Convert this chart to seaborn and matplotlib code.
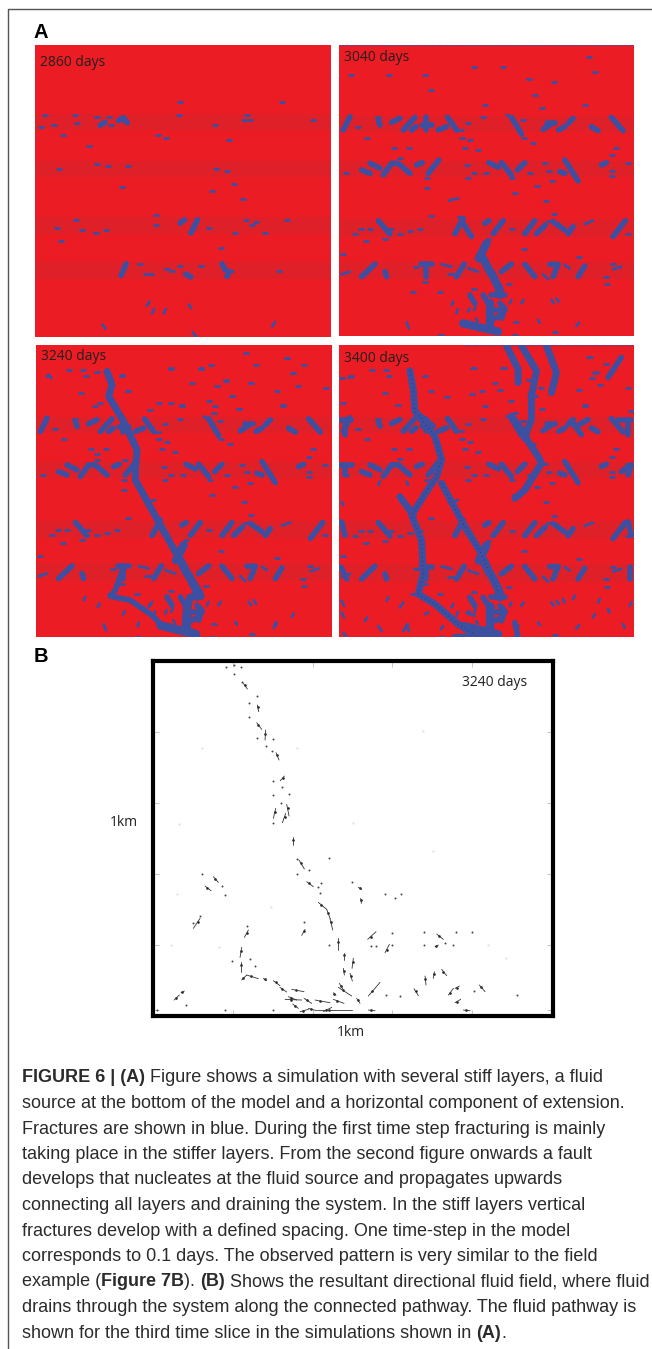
import matplotlib
matplotlib.use("Agg")
import matplotlib.pyplot as plt
import numpy as np
import pandas as pd
import seaborn as sns

sns.set_theme(style="white")
plt.rcParams['font.family'] = ['Liberation Sans', 'DejaVu Sans']

W, H = 652, 1349
RED, BAND, BLUE = "#EC1C24", "#DF2029", "#3D4FA1"

days = ["2860 days", "3040 days", "3240 days", "3400 days"]

# ---- panel 2860 days (read in its own picture units)
a1_dash_x = [75,164,231,267,63,102,170,272,128,208,415,437,481,476,784,681,583,627,877,230,263,325,116,588,619,307,641,574,668,409,409,169,111,187,227,259,124,677,801,708,695,645,735,566,601,361,481,543,441,455,775,631,672,690,378,392]
a1_dash_y = [314,314,321,321,352,345,338,345,376,407,376,383,276,314,276,314,345,391,329,461,469,469,477,477,484,531,522,545,569,615,646,631,654,662,669,662,693,631,631,638,646,669,669,654,715,762,769,769,777,785,785,785,329,329,793,793]
a1_thick = [[(295,332),(312,324)],[(240,346),(255,337)],[(305,325),(322,338)],[(480,640),(493,630)],[(512,670),(532,630)],[(303,797),(318,762)],[(605,762),(615,780)],[(620,800),(628,785)],[(497,793),(512,802)]]
a1_thin = [[(380,888),(388,876)],[(396,911),(402,898)],[(431,911),(437,898)],[(506,884),(513,895)],[(247,945),(256,957)],[(756,950),(764,937)],[(518,968),(528,981)]]

# ---- fractures that persist through the later panels (shared picture units)
a2_dash_x = [764,417,506,47,163,270,782,582,657,288,600,449,622,752,443,565,399,68,130,96,381,404,568,595,176,221,390,430,844,831,194,395,630,880,34,417,453,831,831,586,644,653,275,399,533,608,275,541,635,657,288,643,78,105,60,194,225,256,92,150,461,532,880,568,25,734,243,835,813,817,234,315,270,417,522,545,661,541,318]
a2_dash_y = [140,172,172,194,194,194,185,208,216,239,255,285,293,285,322,329,338,352,322,383,383,391,383,398,413,413,413,421,413,436,444,466,459,459,490,490,490,482,497,490,482,513,505,505,505,527,535,549,572,611,619,634,656,656,671,671,663,656,693,686,686,656,671,717,733,740,770,763,800,823,845,845,815,838,823,937,967,974,974]
a2_thick = [
    [(25,360),(45,320)],[(130,330),(135,345)],[(170,337),(195,325)],[(205,360),(240,322)],[(230,360),(243,350)],[(260,345),(290,345)],[(272,322),(272,360)],[(310,360),(335,350)],[(338,322),(365,360)],[(530,322),(560,372)],[(625,358),(645,345)],[(638,338),(662,338)],[(672,360),(690,350)],[(700,340),(715,325)],[(770,350),(790,362)],[(830,322),(865,362)],
    [(105,460),(135,475)],[(145,495),(170,460),(190,460),(225,490)],[(80,480),(105,490)],[(245,465),(262,458)],[(280,490),(312,450)],[(462,458),(490,472)],[(500,458),(530,495)],[(548,480),(570,458)],[(690,450),(730,513)],[(675,485),(690,490)],[(800,465),(815,458)],
    [(130,632),(165,672)],[(360,671),(385,625)],[(385,640),(410,680)],[(450,640),(462,632)],[(475,671),(505,632)],[(570,671),(600,632)],[(605,671),(632,645)],[(655,635),(690,660)],[(700,671),(715,650)],[(835,680),(872,632)],
    [(80,800),(120,762)],[(150,785),(155,800)],[(272,765),(272,800)],[(258,763),(290,763)],[(365,800),(388,762)],[(500,785),(530,762)],[(570,763),(600,800)],[(645,763),(670,763),(655,800)],[(730,800),(750,768)],
    [(405,855),(420,880)],[(445,855),(460,880)],[(480,900),(510,900)],[(500,915),(480,925)],[(470,855),(510,855)],[(495,880),(510,895),(500,925)],
]
a2_thin = [
    [(515,315),(530,322)],[(365,360),(385,360)],[(342,572),(370,565)],[(160,656),(175,656)],[(370,620),(385,620)],[(750,642),(775,632)],
    [(20,793),(45,785)],[(320,763),(350,770)],[(340,793),(365,793)],[(400,775),(430,785)],[(625,793),(640,808)],[(690,765),(705,775)],[(835,778),(860,770)],
    [(350,885),(355,875)],[(365,910),(369,898)],[(400,905),(404,895)],[(418,900),(422,890)],[(525,880),(530,870)],[(560,880),(566,870)],[(650,870),(657,880)],[(665,865),(672,875)],[(610,930),(615,938)],[(725,948),(733,938)],[(215,937),(222,955)],[(428,933),(424,925)],
]
a2_fault = [[(455,700),(432,745)],[(445,745),(465,785)],[(470,790),(495,840)],[(465,880),(465,950)],[(385,940),(490,965)],[(490,850),(495,855)]]

# ---- panel 3240 days additions
a3_dash_x = [110,153,195,271,417,506,538,641,765,673,815,783,480,555,583,657,797,881,734,148,287,600,530,381,417,449,752,622,550,203,190,353,545,195,280]
a3_dash_y = [177,177,183,192,170,170,161,124,139,161,161,184,215,223,207,215,223,230,238,245,238,253,268,275,275,282,282,292,283,275,283,297,305,427,445]
a3_fault = [[(225,180),(240,220),(230,255),(275,330),(315,415),(310,475),(310,505),(385,640),(455,765),(505,845)],[(475,855),(460,915),(460,955)],[(395,945),(455,960),(495,970)]]
a3_thick = [[(275,765),(250,835),(235,853),(295,865),(360,910),(395,945)]]
a3_thin = [[(155,865),(160,855)],[(197,885),(203,875)],[(273,908),(278,898)],[(317,943),(320,932)],[(355,880),(360,870)],[(780,915),(785,905)],[(727,940),(733,930)],[(50,190),(58,200)]]

# ---- panel 3400 days additions
a4_dash_x = [110,153,22,45,25,150,190,335,412,440,495,530,415,508,480,765,783,815,773,797,881,734,752,888,540,585,620]
a4_dash_y = [177,177,200,198,275,245,283,257,250,240,238,270,173,172,215,140,184,161,201,223,230,238,283,300,305,250,230]
a4_fault = [[(225,180),(235,235),(240,300),(300,375),(320,445),(305,495),(265,555),(230,610),(260,685),(265,785),(250,845)],[(250,845),(300,875),(370,935),(420,965)],[(320,515),(385,635),(440,725),(490,835)],[(470,885),(465,955)],[(195,555),(235,610)],[(560,105),(605,180),(590,255),(590,325),(570,375),(610,435),(620,455),(570,535),(540,560)],[(635,105),(665,185),(650,245)],[(515,105),(550,175),(550,215)],[(530,315),(575,375)]]
a4_thick = [[(18,325),(48,325)],[(30,325),(30,370)],[(18,462),(50,462)],[(30,462),(30,490)],[(20,630),(30,670)],[(18,765),(35,800)],[(850,325),(890,325)],[(880,325),(880,370)],[(860,480),(890,460),(880,490)],[(880,630),(890,670)],[(885,765),(885,800)],[(725,345),(760,325)],[(710,330),(740,370)],[(820,200),(860,140)],[(540,930),(550,975)],[(240,300),(295,345)],[(360,972),(480,968)]]
a4_thin = [[(20,865),(27,880)],[(20,900),(27,915)],[(90,925),(97,915)],[(130,940),(140,955)],[(205,955),(220,935)],[(195,885),(205,870)],[(155,865),(160,855)],[(270,905),(280,900)],[(318,950),(325,940)],[(795,860),(790,870)],[(820,890),(825,900)],[(885,880),(890,870)],[(775,915),(780,905)],[(865,935),(870,945)],[(720,850),(715,860)],[(685,860),(690,870)],[(25,960),(35,975)],[(130,520),(135,510)],[(20,570),(25,580)],[(215,510),(220,520)],[(395,900),(420,910)]]

layer_a1 = [(313,360),(452,500),(622,672),(758,808)]
layer_rest = [(318,365),(452,500),(628,680),(755,808)]

# ---- panel B: flow vectors and isolated dots
b_vec = [(430,100,442,117),(472,165,476,185),(470,218,485,238),(497,240,495,270),(528,308,537,330),(553,378,541,392),(527,475,520,505),(560,463,567,498),(557,490,547,518),(578,562,578,585),(597,630,613,657),(620,695,640,710),(655,757,680,778),(680,778,690,805),(690,805,698,840),(340,680,355,697),(315,708,333,722),(300,805,280,835),(615,838,605,856),(445,840,433,862),(425,892,420,922),(422,935,422,965),(425,990,440,975),(440,975,475,986),(490,985,500,992),(520,992,540,1007),(540,1012,560,1026),(575,1018,612,1025),(555,1048,605,1050),(565,1040,590,1050),(612,1045,635,1060),(645,1050,690,1058),(700,1048,732,1060),(578,1062,595,1075),(600,1085,625,1078),(625,1075,650,1082),(650,1080,755,1080),(670,1085,695,1072),(715,1012,755,1038),(718,1000,730,1020),(770,1045,780,1060),(700,1028,708,1036),(713,865,713,900),(732,908,732,930),(760,925,756,955),(730,955,733,975),(750,970,757,993),(803,868,828,845),(855,908,868,883),(1010,852,1030,868),(1005,890,1015,885),(975,978,978,1005),(1003,965,1000,985),(1025,958,1040,977),(942,1016,955,1037),(805,1038,840,997),(1045,1035,1060,1015),(1065,1015,1078,1008),(1138,1005,1155,1025),(1065,1058,1082,1048),(222,1050,238,1035),(243,1028,253,1023),(1090,1080,1110,1082),(805,1080,825,1082),(782,745,784,760),(775,712,785,718)]
b_dot_x = [378,403,424,402,425,472,448,448,472,520,497,516,520,545,520,567,543,518,590,628,592,688,663,655,660,305,367,375,755,855,902,885,300,278,442,613,688,876,972,1067,1115,813,828,875,972,1060,1035,395,450,465,857,900,1123,1250,257,375,520,170]
b_dot_y = [52,45,52,72,95,138,158,200,264,268,288,303,393,412,436,433,460,518,627,660,673,623,698,712,728,673,707,735,695,733,733,745,797,818,828,817,885,848,845,845,845,887,887,885,885,886,880,933,928,948,1035,1038,1022,1035,1065,1080,1080,1080]
b_faint_x = [970,1000,760,237,230,305,592,212,358,512,1165,1218]
b_faint_y = [242,603,518,522,732,293,293,884,890,770,884,925]
b_tick_x = [400,640,877,1115]
b_tick_y = [245,458,672,885,1080]

label_y = [0.941, 0.956, 0.961, 0.954]

caption = [
    [("FIGURE 6 | (A)", True), (" Figure shows a simulation with several stiff layers, a fluid", False)],
    [("source at the bottom of the model and a horizontal component of extension.", False)],
    [("Fractures are shown in blue. During the first time step fracturing is mainly", False)],
    [("taking place in the stiffer layers. From the second figure onwards a fault", False)],
    [("develops that nucleates at the fluid source and propagates upwards", False)],
    [("connecting all layers and draining the system. In the stiff layers vertical", False)],
    [("fractures develop with a defined spacing. One time-step in the model", False)],
    [("corresponds to 0.1 days. The observed pattern is very similar to the field", False)],
    [("example (", False), ("Figure 7B", True), ("). ", False), ("(B)", True), (" Shows the resultant directional fluid field, where fluid", False)],
    [("drains through the system along the connected pathway. The fluid pathway is", False)],
    [("shown for the third time slice in the simulations shown in ", False), ("(A)", True), (".", False)],
]

fig = plt.figure(figsize=(W/100, H/100), dpi=100, facecolor="white")

def px_axes(x0, y0, x1, y1):
    return fig.add_axes([x0/W, 1-y1/H, (x1-x0)/W, (y1-y0)/H])

def draw_lines(ax, polylines, lw, color=BLUE, **kw):
    rows = [(i, x, y) for i, pl in enumerate(polylines) for x, y in pl]
    if not rows:
        return
    df = pd.DataFrame(rows, columns=["seg", "x", "y"])
    sns.lineplot(data=df, x="x", y="y", units="seg", estimator=None, sort=False,
                 color=color, linewidth=lw, legend=False, ax=ax,
                 solid_capstyle=kw.pop("cap", "round"), solid_joinstyle="round", **kw)

def draw_dashes(ax, xs, ys):
    draw_lines(ax, [[(x-6, y), (x+6, y)] for x, y in zip(xs, ys)], 2.0)

def panel(box, xlim, ylim, bands, label, ly):
    ax = px_axes(*box)
    ax.set_facecolor(RED)
    for a, b in bands:
        ax.axhspan(a, b, color=BAND, lw=0, zorder=0)
    ax.set_xlim(*xlim); ax.set_ylim(*ylim)
    ax.set_xticks([]); ax.set_yticks([]); ax.set_xlabel(""); ax.set_ylabel("")
    for s in ax.spines.values():
        s.set_visible(False)
    ax.text(0.018, ly, label, transform=ax.transAxes, family="Open Sans",
            fontsize=10, color="#231F20", va="center", ha="left", zorder=5)
    return ax

def finish(ax, xlim, ylim):
    ax.set_xlim(*xlim); ax.set_ylim(*ylim)
    ax.set_xlabel(""); ax.set_ylabel("")

def shared(ax):
    draw_dashes(ax, a2_dash_x, a2_dash_y)
    draw_lines(ax, a2_thin, 2.0)
    draw_lines(ax, a2_thick, 4.0)
    draw_lines(ax, a2_fault, 6.0)

# Panel 1
lim = ((45, 932), (982, 105))
ax = panel((35, 45, 331, 337), *lim, layer_a1, days[0], label_y[0])
draw_dashes(ax, a1_dash_x, a1_dash_y)
draw_lines(ax, a1_thin, 2.0)
draw_lines(ax, a1_thick, 4.0)
finish(ax, *lim)

# Panel 2
lim = ((12, 898), (978, 105))
ax = panel((339, 45, 634, 336), *lim, layer_rest, days[1], label_y[1])
shared(ax)
draw_lines(ax, [[(12, 105), (898, 105)]], 1.0, cap="butt", linestyle=(0, (1, 1)))
finish(ax, *lim)

# Panel 3
lim = ((12, 900), (975, 101))
ax = panel((36, 345, 332, 637), *lim, layer_rest, days[2], label_y[2])
shared(ax)
draw_dashes(ax, a3_dash_x, a3_dash_y)
draw_lines(ax, a3_thin, 2.0)
draw_lines(ax, a3_thick, 4.0)
draw_lines(ax, a3_fault, 5.0)
finish(ax, *lim)

# Panel 4
lim = ((12, 898), (973, 103))
ax = panel((339, 345, 634, 637), *lim, layer_rest, days[3], label_y[3])
shared(ax)
draw_dashes(ax, a4_dash_x, a4_dash_y)
draw_lines(ax, a4_thin, 2.0)
draw_lines(ax, a4_thick, 4.0)
draw_lines(ax, a4_fault, 5.0)
draw_lines(ax, a4_fault[:3], 0.5, color="#1C2550", linestyle=(0, (1, 5)))
draw_lines(ax, [[(388, 104), (898, 104)]], 1.0, cap="butt", linestyle=(0, (1, 1)))
finish(ax, *lim)

# Panel B
lim = ((158, 1358), (1097, 32))
ax = px_axes(152.7, 660.7, 552.7, 1015.7)
ax.set_facecolor("white")
draw_lines(ax, [[(a, b), (c, d)] for a, b, c, d in b_vec], 0.6, color="#333333")
head = pd.DataFrame({"x": [a + (c-a)*0.35 for a, b, c, d in b_vec],
                     "y": [b + (d-b)*0.35 for a, b, c, d in b_vec]})
sns.scatterplot(data=head, x="x", y="y", s=3.5, color="#222222", linewidth=0, legend=False, ax=ax)
sns.scatterplot(x=b_dot_x, y=b_dot_y, s=2, color="#444444", linewidth=0, legend=False, ax=ax)
sns.scatterplot(x=b_faint_x, y=b_faint_y, s=3, color="#E4E4E4", linewidth=0, legend=False, ax=ax)
finish(ax, *lim)
ax.set_xticks(b_tick_x); ax.set_yticks(b_tick_y)
ax.tick_params(direction="in", length=4, width=0.6, color="#BBBBBB", top=True, right=True,
               bottom=True, left=True, labelleft=False, labelbottom=False)
for s in ax.spines.values():
    s.set_visible(True); s.set_color("black"); s.set_linewidth(3.0)

def ftext(x, y, s, **kw):
    return fig.text(x/W, 1-y/H, s, **kw)

ftext(462, 682, days[2], family="Open Sans", fontsize=10, color="#231F20", va="center")
ftext(110, 823, "1km", family="Open Sans", fontsize=10, color="#231F20", va="center")
ftext(351, 1033, "1km", family="Open Sans", fontsize=10, color="#231F20", va="center", ha="center")
ftext(34, 33, "A", fontsize=14.5, fontweight="bold", color="black", va="center")
ftext(34, 657, "B", fontsize=14.5, fontweight="bold", color="black", va="center")

# Caption, line by line with bold runs
FS = 13.0
fig.canvas.draw()
renderer = fig.canvas.get_renderer()
for i, runs in enumerate(caption):
    x = 22.0
    y = 1078 + i * 25.5
    for s, bold in runs:
        wt = "bold" if bold else "normal"
        ftext(x, y, s, fontsize=FS, color="#2B2B2B", va="center", ha="left", fontweight=wt)
        x += fig.text(0, 0, s.replace(" ", "\u00a0"), fontsize=FS, fontweight=wt, alpha=0).get_window_extent(renderer).width

# Outer rule of the page
outer = fig.add_axes([0, 0, 1, 1], facecolor="none")
outer.set_xlim(0, W); outer.set_ylim(H, 0); outer.axis("off")
draw_lines(outer, [[(7.5, H), (7.5, 8.5), (W, 8.5)]], 1.0, color="#555555", cap="butt")
outer.set_xlim(0, W); outer.set_ylim(H, 0); outer.axis("off")

fig.savefig("out.png", dpi=100)
